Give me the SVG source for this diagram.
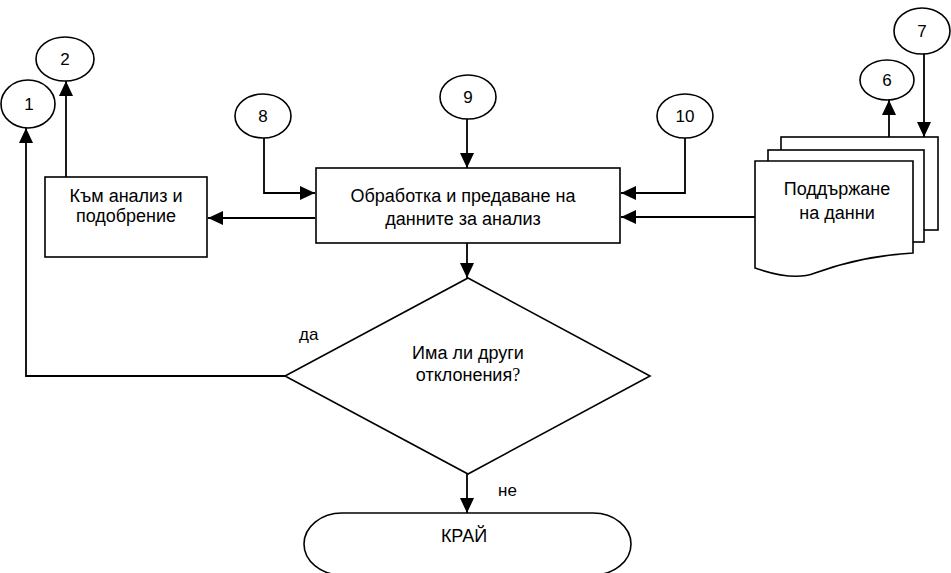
<svg xmlns="http://www.w3.org/2000/svg" width="951" height="573" viewBox="0 0 951 573">
  <defs>
    <marker id="arrow" markerUnits="userSpaceOnUse" markerWidth="16" markerHeight="14" refX="15" refY="7" orient="auto">
      <path d="M0,0 L15,7 L0,14 Z" fill="#000"/>
    </marker>
    <style>
      .shape { fill: #fff; stroke: #000; stroke-width: 1.6; }
      .line { fill: none; stroke: #000; stroke-width: 1.8; }
      .arr { marker-end: url(#arrow); }
      text { font-family: "Liberation Sans", Arial, sans-serif; font-size: 18px; fill: #000; text-anchor: middle; }
      .num { font-size: 17px; }
      .lbl { text-anchor: start; font-size: 17px; }
    </style>
  </defs>
  <rect width="951" height="573" fill="#fff"/>

  <!-- connectors -->
  <g id="connectors">
    <path class="line arr" d="M285,376 L26,376 L26,128"/>
    <path class="line arr" d="M66,177 L66,81"/>
    <path class="line arr" d="M264,138 L264,193 L315,193"/>
    <path class="line arr" d="M467,119 L467,168"/>
    <path class="line arr" d="M685,138 L685,193 L621,193"/>
    <path class="line arr" d="M755,217 L621,217"/>
    <path class="line arr" d="M315,218 L208,218"/>
    <path class="line arr" d="M889,137 L889,100"/>
    <path class="line arr" d="M924,53 L924,137"/>
    <path class="line arr" d="M467,243 L467,278"/>
    <path class="line arr" d="M467,474 L467,513"/>
    <text class="lbl" x="299" y="340">да</text>
    <text class="lbl" x="498" y="496">не</text>
  </g>

  <!-- numbered connector circles -->
  <g id="c1"><ellipse class="shape" cx="28" cy="104" rx="27" ry="24"/><text class="num" x="29" y="110">1</text></g>
  <g id="c2"><ellipse class="shape" cx="65" cy="59" rx="29" ry="22"/><text class="num" x="65" y="65">2</text></g>
  <g id="c8"><ellipse class="shape" cx="263" cy="116" rx="28" ry="22"/><text class="num" x="263" y="122">8</text></g>
  <g id="c9"><ellipse class="shape" cx="468" cy="97" rx="28" ry="22"/><text class="num" x="468" y="103">9</text></g>
  <g id="c10"><ellipse class="shape" cx="685" cy="116" rx="28" ry="22"/><text class="num" x="685" y="122">10</text></g>
  <g id="c6"><ellipse class="shape" cx="887" cy="80" rx="27" ry="20"/><text class="num" x="887" y="86">6</text></g>
  <g id="c7"><ellipse class="shape" cx="922" cy="31" rx="28" ry="23"/><text class="num" x="922" y="37">7</text></g>

  <!-- process boxes -->
  <g id="analysis">
    <rect class="shape" x="45" y="177" width="162" height="80"/>
    <text x="126" y="202">Към анализ и</text>
    <text x="126" y="222">подобрение</text>
  </g>
  <g id="processing">
    <rect class="shape" x="316" y="168" width="304" height="75"/>
    <text x="463" y="202">Обработка и предаване на</text>
    <text x="463" y="225">данните за анализ</text>
  </g>

  <!-- stacked documents -->
  <g id="data">
    <rect class="shape" x="781" y="137" width="157" height="93"/>
    <rect class="shape" x="768" y="150" width="156" height="92"/>
    <path class="shape" d="M755,161 L913,161 L913,253 C875,255 845,262 815,273 C800,279 778,276 755,268 Z"/>
    <text x="837" y="195">Поддържане</text>
    <text x="837" y="219">на данни</text>
  </g>

  <!-- decision -->
  <g id="decision">
    <polygon class="shape" points="468,278 650,376 468,474 285,376"/>
    <text x="468" y="359">Има ли други</text>
    <text x="468" y="381">отклонения<tspan font-family="Liberation Serif, serif">?</tspan></text>
  </g>

  <!-- end terminal -->
  <g id="end">
    <rect class="shape" x="304" y="513" width="327" height="62" rx="38" ry="31"/>
    <text x="464" y="542" font-size="20">КРАЙ</text>
  </g>
</svg>
